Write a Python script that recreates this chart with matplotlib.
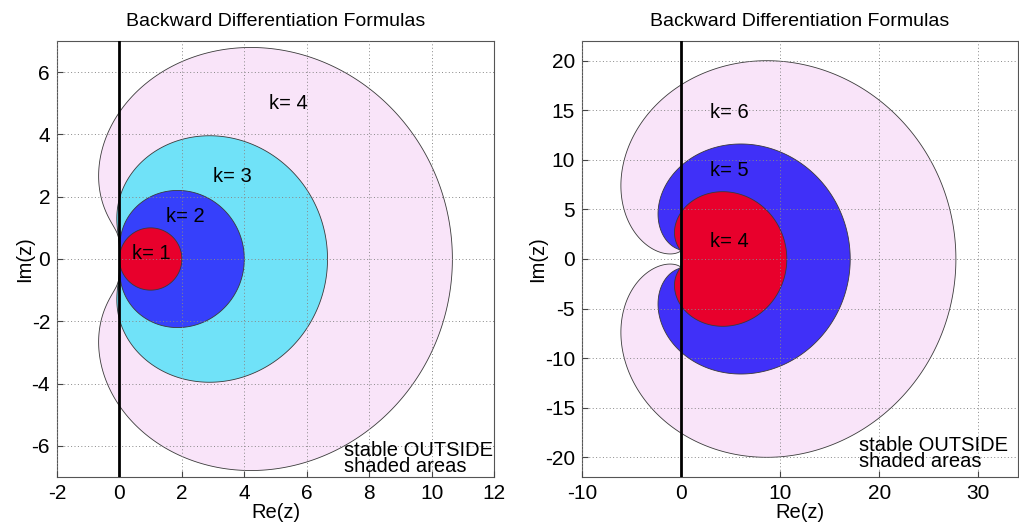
import numpy as np
import matplotlib
matplotlib.use("Agg")
import matplotlib.pyplot as plt

plt.rcParams['font.family'] = ['Liberation Sans', 'DejaVu Sans']
plt.rcParams['axes.unicode_minus'] = False

# Data: BDF orders shown in each panel (drawn largest first), colours, label positions
left_orders = [4, 3, 2, 1]
left_colors = ['#f9e4f9', '#70e2f8', '#3640fb', '#e8002c']
left_label_x = [4.8, 3.0, 1.5, 0.4]
left_label_y = [5.0, 2.65, 1.35, 0.17]

right_orders = [6, 5, 4]
right_colors = ['#f9e4f9', '#4030f8', '#e8002c']
right_label_x = [2.9, 2.9, 2.9]
right_label_y = [14.8, 8.9, 1.8]

title = 'Backward Differentiation Formulas'
left_xticks = [-2, 0, 2, 4, 6, 8, 10, 12]
left_yticks = [-6, -4, -2, 0, 2, 4, 6]
right_xticks = [-10, 0, 10, 20, 30]
right_yticks = [-20, -15, -10, -5, 0, 5, 10, 15, 20]


def bdf_boundary(k, n=2000):
    theta = np.linspace(0, 2 * np.pi, n)
    w = 1 - np.exp(-1j * theta)
    z = sum(w ** j / j for j in range(1, k + 1))
    return z.real, z.imag


fig = plt.figure(figsize=(10.2, 5.29), dpi=100)
W, H = 1020, 529
ax1 = fig.add_axes([57 / W, 1 - 477 / H, 437 / W, 436 / H])
ax2 = fig.add_axes([582 / W, 1 - 477 / H, 436 / W, 436 / H])


def draw(ax, orders, colors, lx, ly, xlim, ylim, xticks, yticks, note_xy):
    for k, c in zip(orders, colors):
        re, im = bdf_boundary(k)
        ax.fill(re, im, facecolor=c, edgecolor='#3a3a3a', linewidth=0.6, zorder=2)
    for k, x, y in zip(orders, lx, ly):
        ax.text(x, y, f'k= {k}', fontsize=14.5, ha='left', va='center', zorder=5)
    ax.axvline(0, color='black', linewidth=2, zorder=4)
    ax.set_xlim(*xlim)
    ax.set_ylim(*ylim)
    ax.set_xticks(xticks)
    ax.set_yticks(yticks)
    ax.grid(True, linestyle=(0, (1, 2.5)), color='#888888', linewidth=0.7, zorder=3)
    ax.set_axisbelow(False)
    ax.tick_params(direction='in', length=4, labelsize=15, color='#444444', pad=5)
    for s in ax.spines.values():
        s.set_color('#555555')
        s.set_linewidth(0.8)
    ax.set_title(title, fontsize=14, pad=11)
    ax.set_xlabel('Re(z)', fontsize=14.5, labelpad=0)
    ax.set_ylabel('Im(z)', fontsize=14.5, labelpad=-2)
    ax.text(note_xy[0], note_xy[1], 'stable OUTSIDE\nshaded areas', fontsize=14.5,
            ha='left', va='top', linespacing=0.8, zorder=5)


draw(ax1, left_orders, left_colors, left_label_x, left_label_y,
     (-2, 12), (-7, 7), left_xticks, left_yticks, (7.2, -5.85))
draw(ax2, right_orders, right_colors, right_label_x, right_label_y,
     (-10, 34), (-22, 22), right_xticks, right_yticks, (18.0, -17.9))

fig.savefig('out.png', dpi=100)
